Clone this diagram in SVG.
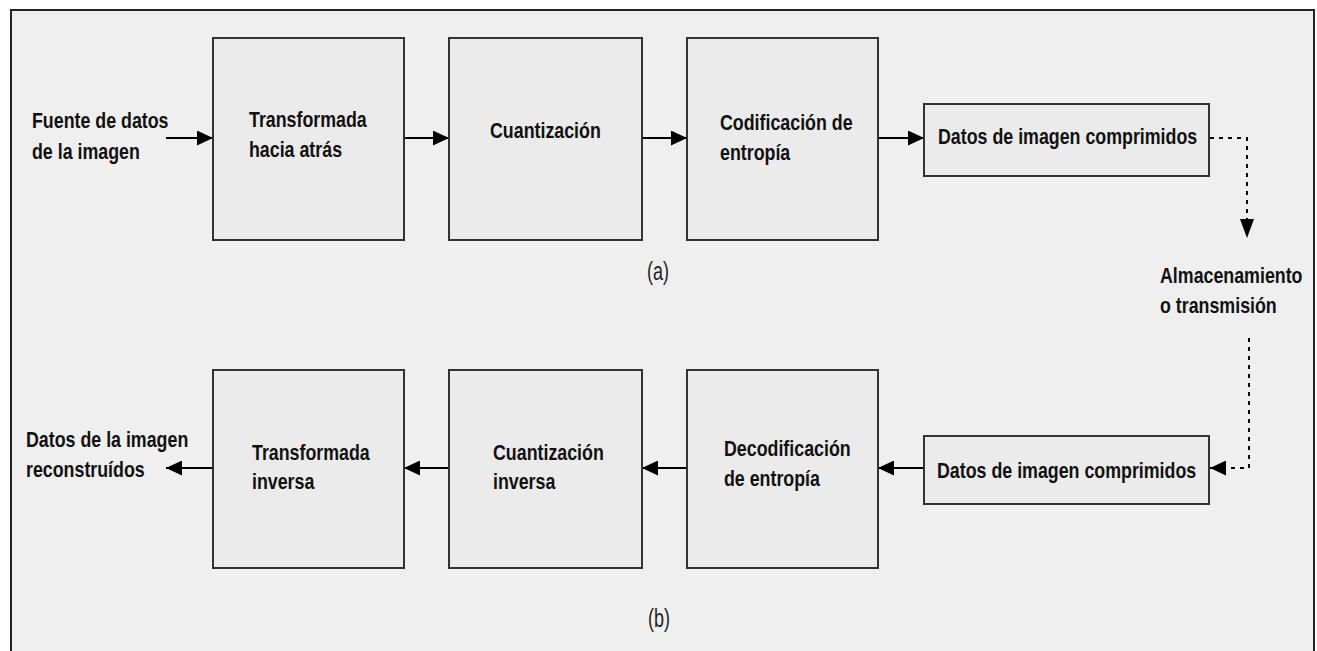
<svg xmlns="http://www.w3.org/2000/svg" width="1317" height="651" viewBox="0 0 1317 651">
<defs>
<style>
.box{fill:#ebebeb;stroke:#333;stroke-width:2}
.t{font-family:"Liberation Sans",Arial,sans-serif;font-weight:bold;font-size:22px;fill:#111}
.lab{font-family:"Liberation Sans",Arial,sans-serif;font-size:25px;fill:#222;text-anchor:middle}
.c{stroke:#000;stroke-width:2;fill:none}
.d{stroke:#000;stroke-width:2;fill:none;stroke-dasharray:4 5}
</style>
<marker id="ah" markerWidth="16" markerHeight="15" refX="16" refY="7.5" orient="auto" markerUnits="userSpaceOnUse">
<path d="M0,0 L16,7.5 L0,15 Z" fill="#000"/>
</marker>
</defs>
<rect x="0" y="0" width="1317" height="651" fill="#fff"/>
<rect id="frame" x="11" y="10" width="1303" height="660" fill="#efefef" stroke="#222" stroke-width="2"/>

<g id="connectors">
<line class="c" x1="166" y1="138" x2="213" y2="138" marker-end="url(#ah)"/>
<line class="c" x1="404" y1="138" x2="449" y2="138" marker-end="url(#ah)"/>
<line class="c" x1="642" y1="138" x2="687" y2="138" marker-end="url(#ah)"/>
<line class="c" x1="878" y1="138" x2="924" y2="138" marker-end="url(#ah)"/>
<polyline class="d" points="1210,138 1247,138 1247,222"/>
<path d="M1240,219 L1254,219 L1247,238 Z" fill="#000"/>
<polyline class="d" points="1249,338 1249,468 1222,468"/>
<line class="c" x1="1215" y1="468" x2="1210" y2="468" marker-end="url(#ah)"/>
<line class="c" x1="924" y1="468" x2="878" y2="468" marker-end="url(#ah)"/>
<line class="c" x1="687" y1="468" x2="642" y2="468" marker-end="url(#ah)"/>
<line class="c" x1="449" y1="468" x2="404" y2="468" marker-end="url(#ah)"/>
<line class="c" x1="213" y1="468" x2="166" y2="468" marker-end="url(#ah)"/>
</g>

<g id="src"><text class="t" transform="matrix(0.81 0 0 1 32 128)">Fuente de datos</text><text class="t" transform="matrix(0.81 0 0 1 32 159)">de la imagen</text></g>
<g id="fwd"><rect class="box" x="213" y="38" width="191" height="202"/><text class="t" transform="matrix(0.81 0 0 1 249 127)">Transformada</text><text class="t" transform="matrix(0.81 0 0 1 249 157)">hacia atrás</text></g>
<g id="quant"><rect class="box" x="449" y="38" width="193" height="202"/><text class="t" transform="matrix(0.81 0 0 1 490 138)">Cuantización</text></g>
<g id="enc"><rect class="box" x="687" y="38" width="191" height="202"/><text class="t" transform="matrix(0.81 0 0 1 720 130)">Codificación de</text><text class="t" transform="matrix(0.81 0 0 1 720 160)">entropía</text></g>
<g id="comp1"><rect class="box" x="924" y="104" width="285" height="72"/><text class="t" transform="matrix(0.81 0 0 1 938 144)">Datos de imagen comprimidos</text></g>
<g id="store"><text class="t" transform="matrix(0.81 0 0 1 1160 283)">Almacenamiento</text><text class="t" transform="matrix(0.81 0 0 1 1160 313)">o transmisión</text></g>
<text class="lab" transform="matrix(0.72 0 0 1 658 280)">(a)</text>

<g id="comp2"><rect class="box" x="924" y="436" width="285" height="68"/><text class="t" transform="matrix(0.81 0 0 1 937 478)">Datos de imagen comprimidos</text></g>
<g id="dec"><rect class="box" x="687" y="370" width="191" height="198"/><text class="t" transform="matrix(0.81 0 0 1 724 456)">Decodificación</text><text class="t" transform="matrix(0.81 0 0 1 724 486)">de entropía</text></g>
<g id="iquant"><rect class="box" x="449" y="370" width="193" height="198"/><text class="t" transform="matrix(0.81 0 0 1 493 460)">Cuantización</text><text class="t" transform="matrix(0.81 0 0 1 493 489)">inversa</text></g>
<g id="inv"><rect class="box" x="213" y="370" width="191" height="198"/><text class="t" transform="matrix(0.81 0 0 1 252 460)">Transformada</text><text class="t" transform="matrix(0.81 0 0 1 252 489)">inversa</text></g>
<g id="out"><text class="t" transform="matrix(0.81 0 0 1 26 447)">Datos de la imagen</text><text class="t" transform="matrix(0.81 0 0 1 26 477)">reconstruídos</text></g>
<text class="lab" transform="matrix(0.72 0 0 1 659 627)">(b)</text>
</svg>
